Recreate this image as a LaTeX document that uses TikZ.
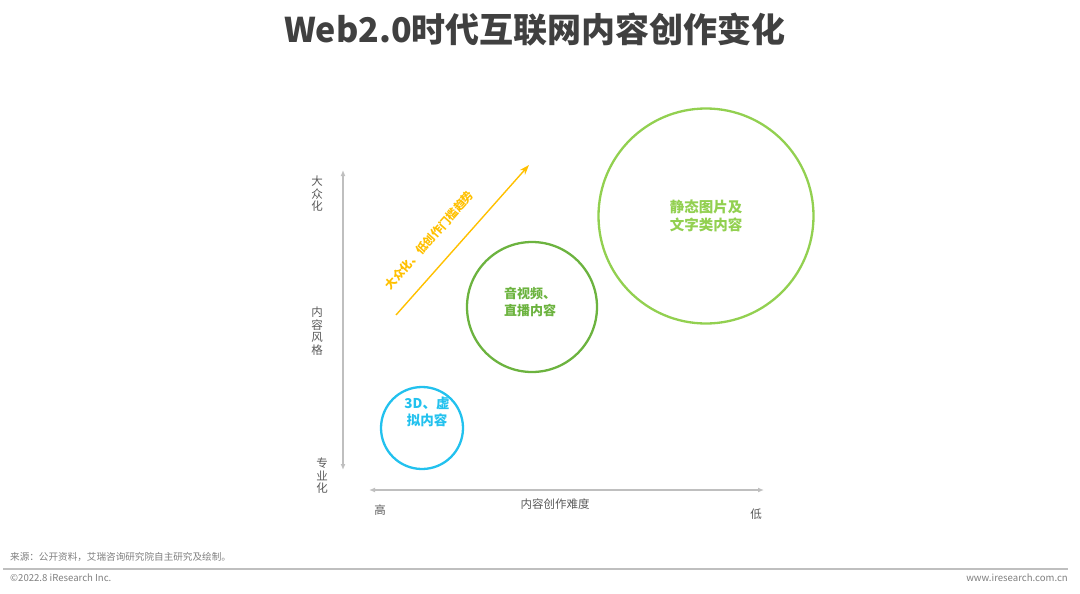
\documentclass[tikz,border=0pt]{standalone}
\usepackage{fontspec}
\setmainfont{Noto Sans CJK SC}
\usepackage{xcolor}
\usepackage{tikz}
\usetikzlibrary{positioning,arrows.meta,calc}
\definecolor{titlegray}{HTML}{404040}
\definecolor{axisgray}{HTML}{BFBFBF}
\definecolor{textgray}{HTML}{595959}
\definecolor{footgray}{HTML}{7F7F7F}
\definecolor{ctrend}{HTML}{FFC000}
\definecolor{cvr}{HTML}{22C1EE}
\definecolor{cvideo}{HTML}{6CB33F}
\definecolor{cstatic}{HTML}{92D050}

\begin{document}
\begin{tikzpicture}[
  x=1pt, y=-1pt,
  >={Latex[length=6pt,width=5pt]},
  axis/.style={<->, draw=axisgray, line width=1.5pt},
  axlbl/.style={font=\fontsize{11.5}{12.5}\selectfont, text=textgray, align=center, inner sep=0pt},
  bubble/.style={circle, line width=2.3pt, inner sep=0pt},
  btxt/.style={font=\bfseries\fontsize{13}{17}\selectfont, align=left, inner sep=0pt},
  trend/.style={->, >={Stealth[length=10pt,width=7pt]}, draw=ctrend, line width=1.4pt},
  trendlbl/.style={font=\bfseries\fontsize{11.5}{13}\selectfont, text=ctrend, inner sep=0pt},
  foot/.style={font=\fontsize{9.6}{11}\selectfont, text=footgray, inner sep=0pt}
]
  \useasboundingbox (0,0) rectangle (1080,594);

  % Title
  \node[font=\bfseries\fontsize{34}{36}\selectfont, text=titlegray] (title) at (535,30) {Web2.0时代互联网内容创作变化};

  % Axes
  \coordinate (vtop) at (343,170);
  \coordinate (vbot) at (343,470);
  \coordinate (hleft) at (369,490);
  \coordinate (hright) at (764,490);
  \draw[axis] (vtop) -- (vbot);
  \draw[axis] (hleft) -- (hright);

  % Axis labels
  \node[axlbl] (mass) at (317,194) {大\\众\\化};
  \node[axlbl] (style) at (317,331) {内\\容\\风\\格};
  \node[axlbl] (pro) at (322,476) {专\\业\\化};
  \node[axlbl] (high) at (380,510) {高};
  \node[axlbl] (diff) at (555,504) {内容创作难度};
  \node[axlbl] (low) at (756,514) {低};

  % Trend arrow
  \coordinate (tstart) at (396,315);
  \coordinate (tend) at (529,165);
  \draw[trend] (tstart) -- (tend);
  \path (tstart) -- (tend) node[trendlbl, pos=0.39, sloped, above=19pt] (trendtxt) {大众化、低创作门槛趋势};

  % Bubbles
  \node[bubble, draw=cvr, minimum size=82pt] (vr) at (422,428) {};
  \node[btxt, text=cvr, align=center, font=\bfseries\fontsize{13.5}{17}\selectfont] (vrtxt) at (427,412) {3D、虚\\拟内容};

  \node[bubble, draw=cvideo, minimum size=130pt] (video) at (532,307) {};
  \node[btxt, text=cvideo] (videotxt) at (530,302) {音视频、\\直播内容};

  \node[bubble, draw=cstatic, minimum size=215pt] (static) at (706,216) {};
  \node[btxt, text=cstatic, font=\bfseries\fontsize{14.5}{18}\selectfont] (statictxt) at (706,216) {静态图片及\\文字类内容};

  % Footer
  \node[foot, anchor=west] (source) at (10,557) {来源：公开资料，艾瑞咨询研究院自主研究及绘制。};
  \coordinate (lineL) at (3,569);
  \coordinate (lineR) at (1068,569);
  \draw[draw=axisgray, line width=1.2pt] (lineL) -- (lineR);
  \node[foot, anchor=west] (copy) at (10,578) {©2022.8 iResearch Inc.};
  \node[foot, anchor=east] (web) at (1068,578) {www.iresearch.com.cn};

\end{tikzpicture}
\end{document}
